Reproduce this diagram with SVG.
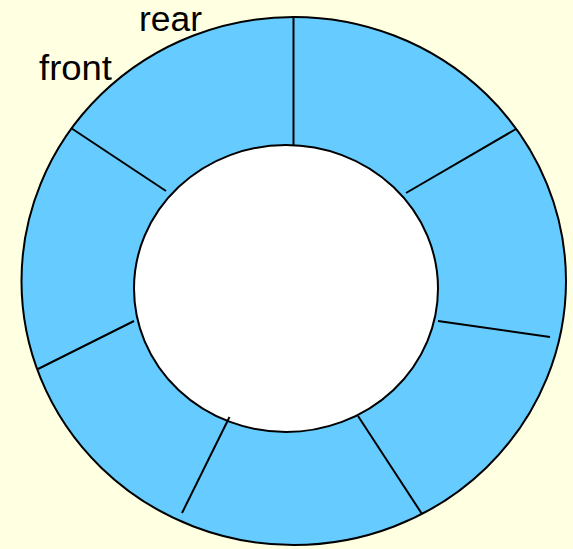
<svg xmlns="http://www.w3.org/2000/svg" width="573" height="549" viewBox="0 0 573 549">
  <style>
    .ring { fill: #66CCFF; stroke: #000; stroke-width: 2; }
    .hole { fill: #FFFFFF; stroke: #000; stroke-width: 2; }
    .div { stroke: #000; stroke-width: 2; fill: none; }
    .lbl { font-family: "Liberation Sans", Arial, sans-serif; font-size: 35.5px; fill: #000; }
  </style>
  <rect x="0" y="0" width="573" height="549" fill="#FFFFE1"/>
  <g id="outer-ring">
    <ellipse class="ring" cx="293.75" cy="281" rx="272.25" ry="264"/>
  </g>
  <g id="inner-hole">
    <ellipse class="hole" cx="286" cy="288.5" rx="152" ry="143.5"/>
  </g>
  <g id="dividers">
    <line class="div" x1="293.5" y1="17" x2="293.5" y2="145"/>
    <line class="div" x1="516" y1="129" x2="406" y2="193"/>
    <line class="div" x1="438" y1="321" x2="550" y2="337"/>
    <line class="div" x1="358" y1="416" x2="422" y2="514"/>
    <line class="div" x1="229.5" y1="417" x2="182" y2="513"/>
    <line class="div" x1="134" y1="321" x2="38" y2="369"/>
    <line class="div" x1="71" y1="128" x2="166" y2="191"/>
  </g>
  <g id="labels">
    <text class="lbl" x="139" y="31" textLength="63" lengthAdjust="spacingAndGlyphs">rear</text>
    <text class="lbl" x="39" y="80" textLength="73" lengthAdjust="spacingAndGlyphs">front</text>
  </g>
</svg>
